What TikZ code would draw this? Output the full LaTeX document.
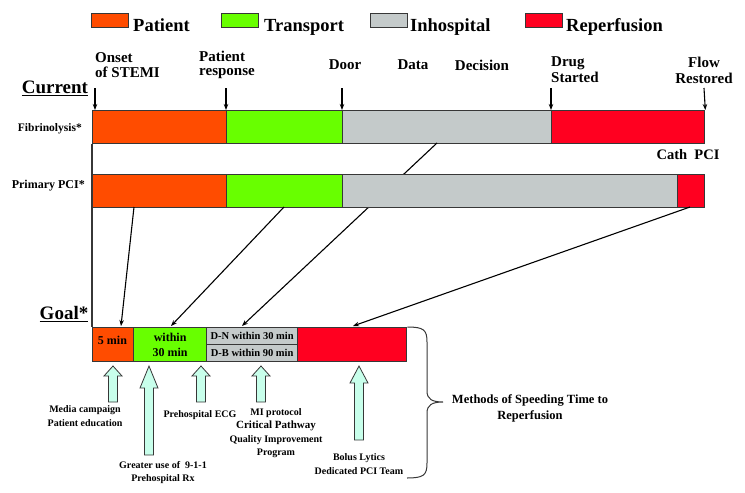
\documentclass[tikz,border=0pt]{standalone}
\usepackage{fontspec}
\setmainfont{Liberation Serif}
\usetikzlibrary{positioning,arrows.meta}

\definecolor{patientc}{RGB}{255,76,0}
\definecolor{transportc}{RGB}{104,255,0}
\definecolor{hospc}{RGB}{196,202,202}
\definecolor{reperfc}{RGB}{255,0,32}
\definecolor{mintc}{RGB}{200,255,235}
\definecolor{edgec}{RGB}{55,55,55}

\tikzset{
  fs/.style 2 args={font=\bfseries\fontsize{#1}{#2}\selectfont, inner sep=0pt},
  seg/.style={draw=edgec, line width=1.3pt, inner sep=0pt, anchor=north west, minimum height=33pt},
  legbox/.style={draw=edgec, line width=1pt, inner sep=0pt, anchor=north west, minimum width=37pt, minimum height=14pt},
  conn/.style={-{Stealth[length=6pt,width=4.5pt]}, line width=1.1pt, black},
  blockar/.style={draw=edgec, fill=mintc, line width=0.8pt, line join=miter}
}

% upward block arrow: x, tip y, foot y, head length
\newcommand{\blockup}[4]{%
  \draw[blockar] (#1-4.5,#3) -- (#1-4.5,#2+#4) -- (#1-9,#2+#4) -- (#1,#2)
    -- (#1+9,#2+#4) -- (#1+4.5,#2+#4) -- (#1+4.5,#3) -- cycle;}

\begin{document}
\begin{tikzpicture}[x=1pt,y=-1pt]
  \useasboundingbox (0,0) rectangle (745,493);

  % legend
  \node[legbox, fill=patientc] (legp) at (91,13) {};
  \node[legbox, fill=transportc] (legt) at (221,13) {};
  \node[legbox, fill=hospc] (legh) at (370,13) {};
  \node[legbox, fill=reperfc] (legr) at (525,13) {};
  \node[fs={18.5}{20}, anchor=base west] (legptxt) at (133,31) {Patient};
  \node[fs={18.5}{20}, anchor=base west] (legttxt) at (264,31) {Transport};
  \node[fs={18.5}{20}, anchor=base west] (leghtxt) at (410,31) {Inhospital};
  \node[fs={18.5}{20}, anchor=base west] (legrtxt) at (566,31) {Reperfusion};

  % time points
  \node[fs={15}{14.5}, align=left, anchor=west] (onsettxt) at (95,65) {Onset\\of STEMI};
  \node[fs={15}{14.5}, align=left, anchor=west] (resptxt) at (199,65) {Patient\\response};
  \node[fs={15}{16}] (doortxt) at (345,65) {Door};
  \node[fs={15}{16}] (datatxt) at (413,65) {Data};
  \node[fs={15}{16}] (dectxt) at (482,65) {Decision};
  \node[fs={15}{16}, align=left, anchor=west] (drugtxt) at (551,70) {Drug\\Started};
  \node[fs={15}{16}, align=center] (flowtxt) at (704,70) {Flow\\Restored};
  \node[fs={19}{20}] (current) at (55,88) {\underline{Current}};

  % fibrinolysis bar
  \node[seg, fill=patientc, minimum width=134pt] (fib1) at (92,110) {};
  \node[seg, fill=transportc, minimum width=116pt] (fib2) at (226,110) {};
  \node[seg, fill=hospc, minimum width=209pt] (fib3) at (342,110) {};
  \node[seg, fill=reperfc, minimum width=153pt] (fib4) at (551,110) {};
  \node[fs={11.5}{12}, anchor=east] (fibtxt) at (82,129) {Fibrinolysis*};

  \coordinate (onset) at (95,88);
  \coordinate (resp) at (226,88);
  \coordinate (door) at (342,88);
  \coordinate (drug) at (551,88);
  \coordinate (flow) at (704,88);
  \draw[conn] (onset) -- (onset |- fib1.north);
  \draw[conn] (resp) -- (fib2.north west);
  \draw[conn] (door) -- (fib3.north west);
  \draw[conn] (drug) -- (fib4.north west);
  \draw[conn] (flow) -- (fib4.north east);

  \node[fs={14.5}{15}] (cathtxt) at (688,155) {Cath\ \ PCI};

  % lines running behind the primary PCI bar
  \coordinate (fibgo) at (437,143);
  \coordinate (goalh) at (242,326);
  \draw[conn] (fibgo) -- (goalh);
  \draw[line width=1.3pt, edgec] (fib1.south west) -- (92,327);

  % primary PCI bar
  \node[seg, fill=patientc, minimum width=134pt] (pci1) at (92,174) {};
  \node[seg, fill=transportc, minimum width=116pt] (pci2) at (226,174) {};
  \node[seg, fill=hospc, minimum width=335pt] (pci3) at (342,174) {};
  \node[seg, fill=reperfc, minimum width=27pt] (pci4) at (677,174) {};
  \node[fs={12}{13}, anchor=east] (pcitxt) at (85,186) {Primary PCI*};

  % goal bar
  \node[fs={19}{20}] (goal) at (64,314) {\underline{Goal*}};
  \node[seg, fill=patientc, minimum width=41pt, minimum height=34pt] (goal1) at (92,327) {};
  \node[seg, fill=transportc, minimum width=73pt, minimum height=34pt] (goal2) at (133,327) {};
  \node[seg, fill=hospc, minimum width=91pt, minimum height=17pt] (goal3a) at (206,327) {};
  \node[seg, fill=hospc, minimum width=91pt, minimum height=17pt] (goal3b) at (206,344) {};
  \node[seg, fill=reperfc, minimum width=109pt, minimum height=34pt] (goal4) at (297,327) {};
  \node[fs={12}{13}] (g1txt) at (112.5,340) {5 min};
  \node[fs={12}{15}, align=center] (g2txt) at (goal2.center) {within\\30 min};
  \node[fs={10.5}{11}] (g3atxt) at (goal3a.center) {D-N within 30 min};
  \node[fs={10.5}{11}] (g3btxt) at (goal3b.center) {D-B within 90 min};

  \coordinate (pcip) at (134,207);
  \coordinate (pcit) at (284,207);
  \coordinate (pcir) at (690,207);
  \coordinate (goalp) at (121,326);
  \coordinate (goalt) at (171,326);
  \coordinate (goalr) at (353,326);
  \draw[conn] (pcip) -- (goalp);
  \draw[conn] (pcit) -- (goalt);
  \draw[conn] (pcir) -- (goalr);

  % methods
  \blockup{113}{366}{402}{10}
  \blockup{149}{366}{455}{22}
  \blockup{201}{366}{402}{10}
  \blockup{261}{366}{402}{10}
  \blockup{359}{366}{440}{17}

  \node[fs={10}{14}, align=center] (media) at (85,416) {Media campaign\\Patient education};
  \node[fs={10}{13}, align=center] (greater) at (163,473) {Greater use of\ \ 9-1-1\\Prehospital Rx};
  \node[fs={10}{13}] (ecg) at (200,415) {Prehospital ECG};
  \node[fs={10}{13.3}, align=center] (miprot) at (276,433)
    {MI protocol\\{\fontsize{11}{13.3}\selectfont Critical Pathway}\\Quality Improvement\\Program};
  \node[fs={10}{14}, align=center] (bolus) at (359,464) {Bolus Lytics\\Dedicated PCI Team};

  \draw[edgec, line width=1pt] (goal4.north east) .. controls (424,327) and (427,330) .. (427,342)
    -- (427,391) .. controls (427,399) and (432,402) .. (443,402)
    .. controls (432,402) and (427,405) .. (427,413)
    -- (427,463) .. controls (427,475) and (424,478) .. (407,478);
  \node[fs={12.5}{16}, align=center] (methods) at (530,408) {Methods of Speeding Time to\\Reperfusion};
\end{tikzpicture}
\end{document}
